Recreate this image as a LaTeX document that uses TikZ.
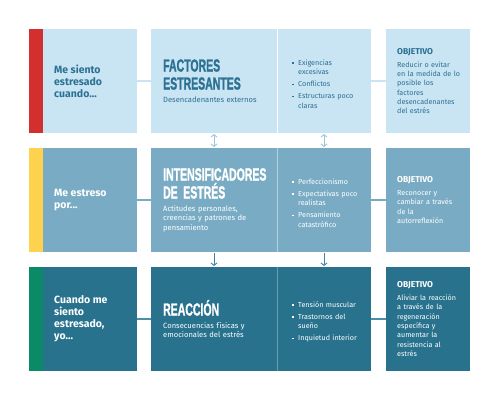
\documentclass[tikz,border=0pt]{standalone}
\usepackage{fontspec}
\setmainfont{Fira Sans}
\newfontfamily\headfont[BoldFeatures={FakeBold=1.6}]{Liberation Sans}
\usetikzlibrary{arrows.meta,positioning}
\setlength{\parindent}{0pt}

\definecolor{paleblue}{HTML}{C9E4F3}
\definecolor{midblue}{HTML}{79ACC4}
\definecolor{deepblue}{HTML}{28728E}
\definecolor{inkteal}{HTML}{2B7192}
\definecolor{stressred}{HTML}{D32F2F}
\definecolor{stressyellow}{HTML}{FDD24E}
\definecolor{stressgreen}{HTML}{0A8A66}
\definecolor{linkdeep}{HTML}{4A8FAA}
\definecolor{arrowpale}{HTML}{9CC6DA}
\definecolor{arrowdeep}{HTML}{3A85A5}

\newcommand{\BoxH}{104}
\newcommand{\StripeW}{14}
\newcommand{\CondX}{29}
\newcommand{\CondW}{108}
\newcommand{\FacX}{151}
\newcommand{\FacW}{126}
\newcommand{\ListX}{277}
\newcommand{\ListW}{94}
\newcommand{\ObjX}{386}
\newcommand{\ObjW}{84}
\newcommand{\RowA}{29}
\newcommand{\RowB}{148}
\newcommand{\RowC}{267}
\newcommand{\HeadLine}[1]{\scalebox{0.6}[1]{#1}}
\newcommand{\Item}[1]{\par\hangindent=6pt\hangafter=1\noindent
  \makebox[6pt][l]{\raisebox{1.5pt}{\rule{1.7pt}{1.7pt}}}#1\par}

\begin{document}
\begin{tikzpicture}[x=1pt,y=-1pt,
  panel/.style={inner sep=0pt, outer sep=0pt, anchor=north west, minimum height=\BoxH pt},
  rowA/.style={fill=paleblue},
  rowB/.style={fill=midblue},
  rowC/.style={fill=deepblue},
  textA/.style={text=inkteal},
  textB/.style={text=white},
  condtext/.style={anchor=west, align=left, inner sep=0pt, font=\bfseries\fontsize{10.5}{12}\selectfont},
  headtext/.style={anchor=west, align=left, inner sep=0pt, text width=112pt, font=\fontsize{7.6}{9.3}\selectfont},
  listtext/.style={anchor=west, align=left, inner sep=0pt, text width=72pt, font=\fontsize{7.2}{9.3}\selectfont},
  objtext/.style={anchor=west, align=left, inner sep=0pt, text width=70pt, font=\fontsize{7.2}{9.3}\selectfont},
  link/.style={line width=1.6pt},
  divider/.style={line width=0.8pt},
  duplex/.style={{Straight Barb[length=2.5pt,width=6pt]}-{Straight Barb[length=2.5pt,width=6pt]}, line width=0.9pt, draw=arrowpale, shorten >=1pt, shorten <=1pt},
  flow/.style={-{Straight Barb[length=2.5pt,width=6pt]}, line width=0.9pt, draw=arrowdeep, shorten >=1pt, shorten <=1pt}
]
\useasboundingbox (0,0) rectangle (500,400);

% ----- Row 1: external stressors -----
\node[panel, rowA, minimum width=\CondW pt] (cond1) at (\CondX,\RowA) {};
\fill[stressred] (cond1.north west) rectangle ([xshift=\StripeW pt]cond1.south west);
\node[panel, rowA, minimum width=\FacW pt] (fac1) at (\FacX,\RowA) {};
\node[panel, rowA, minimum width=\ListW pt] (list1) at (\ListX,\RowA) {};
\node[panel, rowA, minimum width=\ObjW pt] (obj1) at (\ObjX,\RowA) {};
\draw[link, paleblue] (cond1) -- (fac1);
\draw[link, paleblue] (list1) -- (obj1);
\draw[divider, white] (list1.north west) -- (list1.south west);

\node[condtext, textA] (condlbl1) at ([xshift=25pt]cond1.west) {Me siento\\estresado\\cuando...};
\node[headtext, textA] (faclbl1) at ([xshift=12pt]fac1.west)
  {{\headfont\bfseries\fontsize{17.5}{18}\selectfont\HeadLine{FACTORES}\\\HeadLine{ESTRESANTES}\par}\vspace{3.7pt}Desencadenantes externos};
\node[listtext, textA] (listlbl1) at ([xshift=15pt]list1.west)
  {\setlength{\parskip}{2.7pt}\Item{Exigencias\newline excesivas}\Item{Conflictos}\Item{Estructuras poco\newline claras}};
\node[objtext, textA] (objlbl1) at ([xshift=11pt]obj1.west)
  {{\bfseries\fontsize{8.5}{10}\selectfont OBJETIVO\par}\vspace{3.7pt}Reducir o evitar\\en la medida de lo\\posible los\\factores\\desencadenantes\\del estrés};

% ----- Row 2: stress amplifiers -----
\node[panel, rowB, minimum width=\CondW pt] (cond2) at (\CondX,\RowB) {};
\fill[stressyellow] (cond2.north west) rectangle ([xshift=\StripeW pt]cond2.south west);
\node[panel, rowB, minimum width=\FacW pt] (fac2) at (\FacX,\RowB) {};
\node[panel, rowB, minimum width=\ListW pt] (list2) at (\ListX,\RowB) {};
\node[panel, rowB, minimum width=\ObjW pt] (obj2) at (\ObjX,\RowB) {};
\draw[link, midblue] (cond2) -- (fac2);
\draw[link, midblue] (list2) -- (obj2);
\draw[divider, white!45!midblue] (list2.north west) -- (list2.south west);

\node[condtext, textB] (condlbl2) at ([xshift=25pt]cond2.west) {Me estreso\\por...};
\node[headtext, textB] (faclbl2) at ([xshift=12pt]fac2.west)
  {{\headfont\bfseries\fontsize{17.5}{18}\selectfont\HeadLine{INTENSIFICADORES}\\\HeadLine{DE}\hspace{5.5pt}\HeadLine{ESTRÉS}\par}\vspace{3.7pt}Actitudes personales,\\creencias y patrones de\\pensamiento};
\node[listtext, textB] (listlbl2) at ([xshift=15pt]list2.west)
  {\setlength{\parskip}{2.7pt}\Item{Perfeccionismo}\Item{Expectativas poco\newline realistas}\Item{Pensamiento\newline catastrófico}};
\node[objtext, textB] (objlbl2) at ([xshift=11pt]obj2.west)
  {{\bfseries\fontsize{8.5}{10}\selectfont OBJETIVO\par}\vspace{3.7pt}Reconocer y\\cambiar a través\\de la\\autorreflexión};

% ----- Row 3: reaction -----
\node[panel, rowC, minimum width=\CondW pt] (cond3) at (\CondX,\RowC) {};
\fill[stressgreen] (cond3.north west) rectangle ([xshift=\StripeW pt]cond3.south west);
\node[panel, rowC, minimum width=\FacW pt] (fac3) at (\FacX,\RowC) {};
\node[panel, rowC, minimum width=\ListW pt] (list3) at (\ListX,\RowC) {};
\node[panel, rowC, minimum width=\ObjW pt] (obj3) at (\ObjX,\RowC) {};
\draw[link, linkdeep] (cond3) -- (fac3);
\draw[link, linkdeep] (list3) -- (obj3);
\draw[divider, white!30!deepblue] (list3.north west) -- (list3.south west);

\node[condtext, textB] (condlbl3) at ([xshift=25pt]cond3.west) {Cuando me\\siento\\estresado,\\yo...};
\node[headtext, textB] (faclbl3) at ([xshift=12pt]fac3.west)
  {{\headfont\bfseries\fontsize{17.5}{18}\selectfont\HeadLine{REACCIÓN}\par}\vspace{3.7pt}Consecuencias físicas y\\emocionales del estrés};
\node[listtext, textB] (listlbl3) at ([xshift=15pt]list3.west)
  {\setlength{\parskip}{2.7pt}\Item{Tensión muscular}\Item{Trastornos del\newline sueño}\Item{Inquietud interior}};
\node[objtext, textB] (objlbl3) at ([xshift=11pt]obj3.west)
  {{\bfseries\fontsize{8.5}{10}\selectfont OBJETIVO\par}\vspace{3.7pt}Aliviar la reacción\\a través de la\\regeneración\\específica y\\aumentar la\\resistencia al\\estrés};

% ----- Arrows between rows -----
\draw[duplex] (fac1) -- (fac2);
\draw[duplex] (list1) -- (list2);
\draw[flow] (fac2) -- (fac3);
\draw[flow] (list2) -- (list3);

\end{tikzpicture}
\end{document}
